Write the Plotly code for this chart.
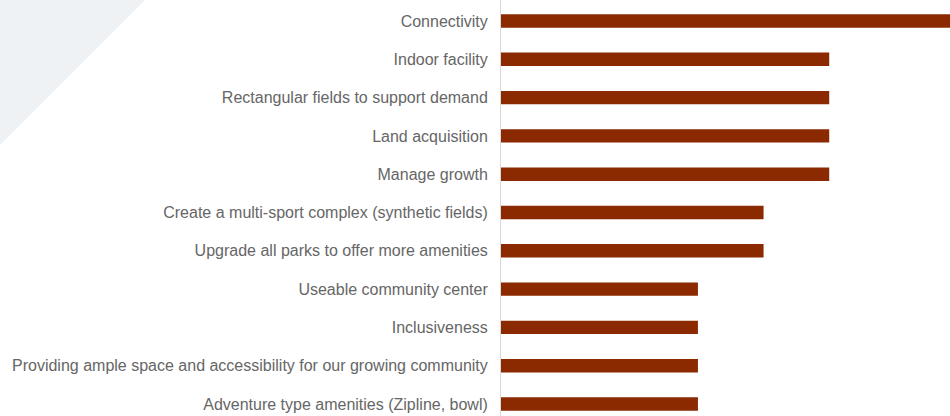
import plotly.graph_objects as go

categories = [
    "Connectivity",
    "Indoor facility",
    "Rectangular fields to support demand",
    "Land acquisition",
    "Manage growth",
    "Create a multi-sport complex (synthetic fields)",
    "Upgrade all parks to offer more amenities",
    "Useable community center",
    "Inclusiveness",
    "Providing ample space and accessibility for our growing community",
    "Adventure type amenities (Zipline, bowl)",
]
values = [7, 5, 5, 5, 5, 4, 4, 3, 3, 3, 3]

W, H = 950, 416
ML = 501
PW = W - ML

fig = go.Figure()
fig.add_trace(go.Bar(
    x=values,
    y=categories,
    orientation="h",
    marker=dict(color="#8B2A00", line=dict(width=0)),
    width=0.35,
    hoverinfo="x+y",
))

# light decorative triangle at top-left
x0 = (0 - ML) / PW
x1 = (145 - ML) / PW
y1 = 1 - 145 / H
fig.add_shape(
    type="path",
    path=f"M {x0} 1 L {x1} 1 L {x0} {y1} Z",
    xref="paper", yref="paper",
    fillcolor="#eff2f5", line=dict(width=0), layer="below",
)

fig.update_layout(
    width=W, height=H,
    margin=dict(l=ML, r=0, t=0, b=0),
    paper_bgcolor="white",
    plot_bgcolor="rgba(0,0,0,0)",
    showlegend=False,
    font=dict(family="Liberation Sans, Arial, sans-serif", size=16, color="#666666"),
    xaxis=dict(
        range=[0, 6.84],
        showgrid=False, zeroline=False, showline=False,
        showticklabels=False, ticks="",
    ),
    yaxis=dict(
        type="category",
        categoryorder="array",
        categoryarray=categories,
        range=[10.313, -0.548],
        showgrid=False, zeroline=False,
        showline=True, linecolor="#d9d9d9", linewidth=1,
        ticks="", ticklabelstandoff=9,
        tickfont=dict(size=16, color="#666666"),
    ),
)

fig.write_html(
    "out.html",
    config={"displayModeBar": False},
    post_script="document.body.style.margin='0';document.body.style.overflow='hidden';",
)
